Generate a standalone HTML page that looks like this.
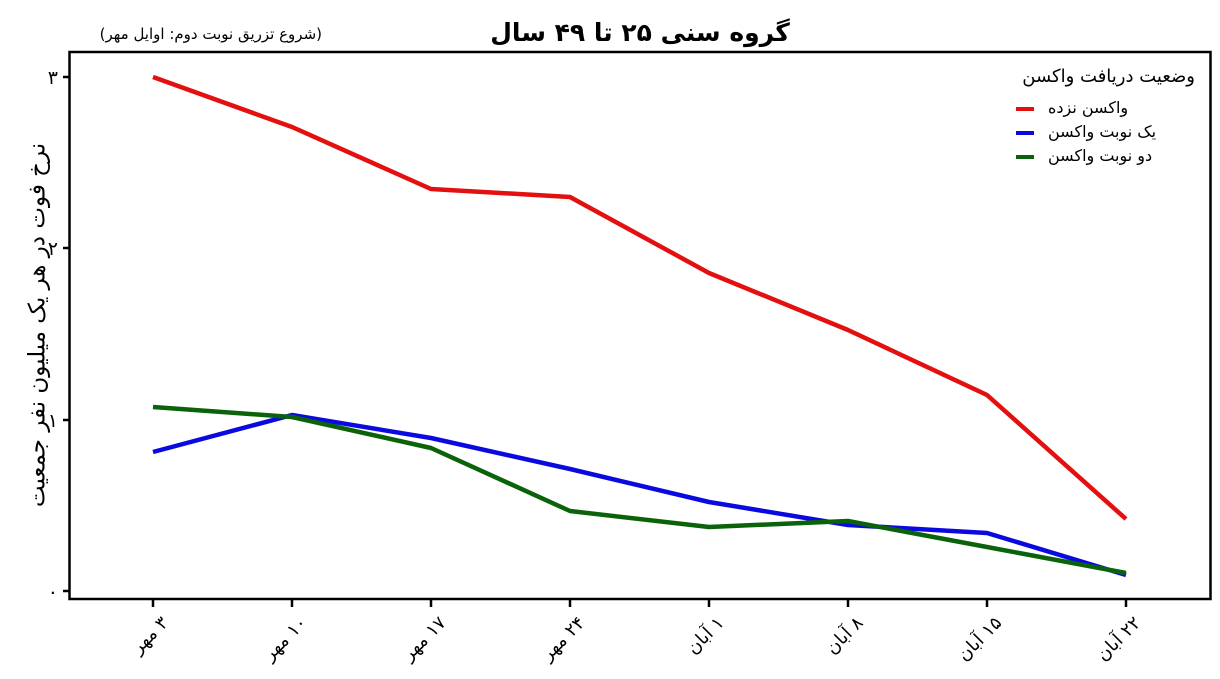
<!DOCTYPE html>
<html><head><meta charset="utf-8"><style>
body{margin:0;background:#fff;width:1220px;height:679px;position:relative;overflow:hidden}
.t{position:absolute;font-family:"DejaVu Sans","Liberation Sans",sans-serif;white-space:nowrap;line-height:1;color:#000}
.xl{position:absolute;font-family:"DejaVu Sans",sans-serif;font-size:18px;white-space:nowrap;line-height:1;transform-origin:100% 0;transform:rotate(-45deg)}
</style></head><body>
<svg width="1220" height="679" xmlns="http://www.w3.org/2000/svg" style="position:absolute;left:0;top:0">
<rect x="69.5" y="52" width="1141" height="547" fill="none" stroke="#000" stroke-width="2.5"/>
<g stroke="#000" stroke-width="2.5">
<line x1="63" y1="77" x2="69" y2="77"/><line x1="63" y1="248" x2="69" y2="248"/><line x1="63" y1="420" x2="69" y2="420"/><line x1="63" y1="591" x2="69" y2="591"/>
<line x1="153" y1="600" x2="153" y2="607"/><line x1="292" y1="600" x2="292" y2="607"/><line x1="431" y1="600" x2="431" y2="607"/><line x1="570" y1="600" x2="570" y2="607"/><line x1="709" y1="600" x2="709" y2="607"/><line x1="848" y1="600" x2="848" y2="607"/><line x1="987" y1="600" x2="987" y2="607"/><line x1="1126" y1="600" x2="1126" y2="607"/>
</g>
<g font-size="19" text-anchor="end" font-family="DejaVu Sans,sans-serif">
<text x="58" y="84">۳</text><text x="58" y="255">۲</text><text x="58" y="427">۱</text><text x="58" y="598">۰</text>
</g>
<g fill="none" stroke-width="4.5" stroke-linejoin="round">
<polyline stroke="#e41010" points="153,77 292,127 431,189 570,197 709,273 848,330 987,395 1126,519"/>
<polyline stroke="#0a0ae0" points="153,452 292,415 431,438 570,469 709,502 848,525 987,533 1126,575"/>
<polyline stroke="#0a620a" points="153,407 292,417 431,448 570,511 709,527 848,521 987,547 1126,573"/>
</g>
<g stroke-width="4">
<line x1="1016" y1="109" x2="1034" y2="109" stroke="#e41010"/>
<line x1="1016" y1="133" x2="1034" y2="133" stroke="#0a0ae0"/>
<line x1="1016" y1="157" x2="1034" y2="157" stroke="#0a620a"/>
</g>
</svg>
<div class="t" dir="rtl" style="left:0;width:1280px;text-align:center;top:20px;font-size:25px;font-weight:bold">گروه سنی ۲۵ تا ۴۹ سال</div>
<div class="t" dir="rtl" style="right:898px;top:27px;font-size:15px">(شروع تزریق نوبت دوم: اوایل مهر)</div>
<div class="t" dir="rtl" style="left:38px;top:325px;font-size:23px;transform:translate(-50%,-50%) rotate(-90deg)">نرخ فوت در هر یک میلیون نفر جمعیت</div>
<div class="t" dir="rtl" style="right:25px;top:68px;font-size:18px">وضعیت دریافت واکسن</div>
<div class="t" dir="rtl" style="left:1048px;top:100px;font-size:16px">واکسن نزده</div>
<div class="t" dir="rtl" style="left:1048px;top:124px;font-size:16px">یک نوبت واکسن</div>
<div class="t" dir="rtl" style="left:1048px;top:148px;font-size:16px">دو نوبت واکسن</div>
<div class="xl" dir="rtl" style="right:1061px;top:614px">۳ مهر</div>
<div class="xl" dir="rtl" style="right:922px;top:614px">۱۰ مهر</div>
<div class="xl" dir="rtl" style="right:783px;top:614px">۱۷ مهر</div>
<div class="xl" dir="rtl" style="right:644px;top:614px">۲۴ مهر</div>
<div class="xl" dir="rtl" style="right:505px;top:614px">۱ آبان</div>
<div class="xl" dir="rtl" style="right:366px;top:614px">۸ آبان</div>
<div class="xl" dir="rtl" style="right:227px;top:614px">۱۵ آبان</div>
<div class="xl" dir="rtl" style="right:88px;top:614px">۲۲ آبان</div>
</body></html>
